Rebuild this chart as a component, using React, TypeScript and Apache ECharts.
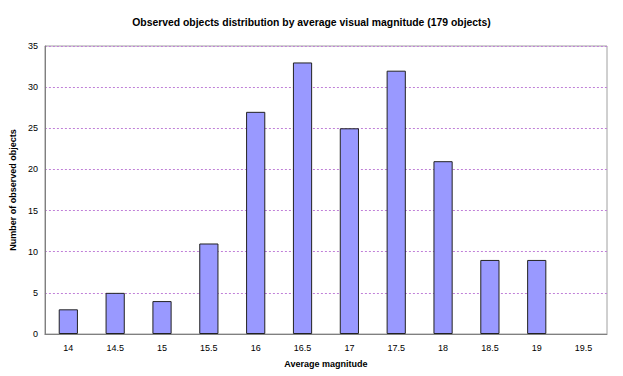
import React, { useEffect, useRef } from "react";
import * as echarts from "echarts";

const categories = ["14", "14.5", "15", "15.5", "16", "16.5", "17", "17.5", "18", "18.5", "19", "19.5"];
const counts = [3, 5, 4, 11, 27, 33, 25, 32, 21, 9, 9, 0];

export default function App() {
  const ref = useRef<HTMLDivElement>(null);
  useEffect(() => {
    if (!ref.current) return;
    const chart = echarts.init(ref.current, null, { renderer: "svg" });
    chart.setOption({
      animation: false,
      backgroundColor: "#ffffff",
      title: {
        text: "Observed objects distribution by average visual magnitude (179 objects)",
        left: "center",
        top: 12,
        textStyle: { fontFamily: "Liberation Sans, Arial", fontSize: 10.4, fontWeight: "bold", color: "#000" },
      },
      grid: { left: 39, right: 16, top: 46, bottom: 42, show: true, borderColor: "#a0a0a0", borderWidth: 1, backgroundColor: "transparent" },
      xAxis: {
        type: "category",
        data: categories,
        name: "Average magnitude",
        nameLocation: "middle",
        nameGap: 25,
        nameTextStyle: { fontFamily: "Liberation Sans, Arial", fontSize: 9, fontWeight: "bold", color: "#000" },
        axisLine: { lineStyle: { color: "#808080" } },
        axisTick: { show: false },
        axisLabel: { fontFamily: "Liberation Sans, Arial", fontSize: 9, color: "#000", margin: 9 },
      },
      yAxis: {
        type: "value",
        min: 0,
        max: 35,
        interval: 5,
        name: "Number of observed objects",
        nameLocation: "middle",
        nameGap: 25,
        nameTextStyle: { fontFamily: "Liberation Sans, Arial", fontSize: 9, fontWeight: "bold", color: "#000" },
        axisLine: { show: true, lineStyle: { color: "#808080" } },
        axisTick: { show: false },
        axisLabel: { fontFamily: "Liberation Sans, Arial", fontSize: 9, color: "#000", margin: 7 },
        splitLine: { lineStyle: { color: "#c080d8", type: [2, 2], width: 1 } },
      },
      series: [
        {
          type: "bar",
          data: counts.map((v) => (v === 0 ? { value: v, itemStyle: { borderWidth: 0 } } : v)),
          barWidth: "41%",
          itemStyle: { color: "#9999ff", borderColor: "#222", borderWidth: 1 },
        },
      ],
    });
    return () => chart.dispose();
  }, []);
  return <div ref={ref} style={{ width: 623, height: 376, position: "absolute", left: 0, top: 0 }} />;
}
